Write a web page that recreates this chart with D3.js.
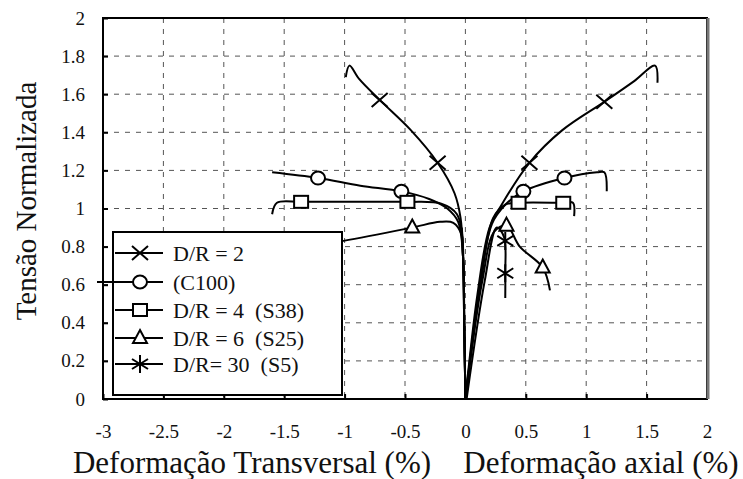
<!DOCTYPE html>
<html>
<head>
<meta charset="utf-8">
<script src="https://cdn.jsdelivr.net/npm/d3@7"></script>
<style>
  body { margin: 0; background: #fff; }
  svg { display: block; }
</style>
</head>
<body>
<svg></svg>
<script>
// tick values
const xTicks = [-3, -2.5, -2, -1.5, -1, -0.5, 0, 0.5, 1, 1.5, 2];
const yTicks = [0, 0.2, 0.4, 0.6, 0.8, 1, 1.2, 1.4, 1.6, 1.8, 2];

// D/R = 2 (X)
const dr2Lateral = [[0, 0], [-0.01, 0.4], [-0.02, 0.75], [-0.04, 0.95], [-0.09, 1.08], [-0.23, 1.24], [-0.45, 1.41], [-0.71, 1.57], [-0.88, 1.68], [-0.96, 1.75], [-0.99, 1.69]];
const dr2Axial = [[0, 0], [0.1, 0.55], [0.2, 0.9], [0.3, 1.02], [0.53, 1.24], [0.8, 1.41], [1.15, 1.56], [1.4, 1.67], [1.57, 1.75], [1.59, 1.66]];
const dr2Marks = [[-0.71, 1.57], [-0.23, 1.24], [0.53, 1.24], [1.15, 1.56]];

// C100 (circle)
const c100Lateral = [[0, 0], [-0.01, 0.4], [-0.02, 0.75], [-0.06, 0.93], [-0.15, 1.0], [-0.3, 1.05], [-0.53, 1.09], [-0.87, 1.12], [-1.22, 1.16], [-1.6, 1.19]];
const c100Axial = [[0, 0], [0.12, 0.6], [0.22, 0.92], [0.33, 1.02], [0.48, 1.09], [0.82, 1.16], [1.09, 1.19], [1.15, 1.19], [1.17, 1.09]];
const c100Marks = [[-1.22, 1.16], [-0.53, 1.09], [0.48, 1.09], [0.82, 1.16]];

// D/R = 4 (square)
const dr4Lateral = [[0, 0], [-0.01, 0.4], [-0.02, 0.75], [-0.07, 0.97], [-0.2, 1.025], [-0.48, 1.035], [-1.0, 1.035], [-1.36, 1.035], [-1.56, 1.03], [-1.6, 0.97]];
const dr4Axial = [[0, 0], [0.13, 0.62], [0.23, 0.95], [0.33, 1.02], [0.44, 1.03], [0.81, 1.03], [0.89, 1.03], [0.9, 0.96]];
const dr4Marks = [[-1.36, 1.035], [-0.48, 1.035], [0.44, 1.03], [0.81, 1.03]];

// D/R = 6 (triangle)
const dr6Lateral = [[0, 0], [-0.01, 0.4], [-0.02, 0.75], [-0.03, 0.86], [-0.1, 0.925], [-0.21, 0.93], [-0.44, 0.9], [-1.01, 0.83], [-1.5, 0.78]];
const dr6Axial = [[0, 0], [0.14, 0.62], [0.24, 0.88], [0.34, 0.91], [0.45, 0.8], [0.64, 0.69], [0.7, 0.57]];
const dr6Marks = [[-0.44, 0.9], [0.34, 0.91], [0.64, 0.69]];

// D/R = 30 (asterisk)
const dr30Lateral = [[0, 0], [-0.01, 0.45], [-0.02, 0.8], [-0.03, 0.9]];
const dr30Axial = [[0.01, 0], [0.16, 0.62], [0.26, 0.9], [0.32, 0.85], [0.33, 0.66], [0.33, 0.53]];
const dr30Marks = [[0.33, 0.83], [0.33, 0.66]];

const legendLabels = ["D/R = 2", "(C100)", "D/R = 4  (S38)", "D/R = 6  (S25)", "D/R= 30  (S5)"];
const series = [
  { name: legendLabels[0], sym: "x", lateral: dr2Lateral, axial: dr2Axial, marks: dr2Marks },
  { name: legendLabels[1], sym: "o", lateral: c100Lateral, axial: c100Axial, marks: c100Marks },
  { name: legendLabels[2], sym: "s", lateral: dr4Lateral, axial: dr4Axial, marks: dr4Marks },
  { name: legendLabels[3], sym: "t", lateral: dr6Lateral, axial: dr6Axial, marks: dr6Marks },
  { name: legendLabels[4], sym: "a", lateral: dr30Lateral, axial: dr30Axial, marks: dr30Marks }
];

const serif = '"Liberation Serif", Tinos, "Noto Serif", "DejaVu Serif", "Times New Roman", serif';
const width = 743, height = 479;
const svg = d3.select("svg").attr("width", width).attr("height", height);

const x = d3.scaleLinear().domain([-3, 2]).range([103, 707]);
const y = d3.scaleLinear().domain([0, 2]).range([399, 18]);

// grid
const grid = svg.append("g").attr("stroke", "#555").attr("stroke-width", 1).attr("stroke-dasharray", "5,6");
grid.selectAll("line.v").data(xTicks.slice(1, -1)).enter().append("line")
  .attr("x1", d => x(d)).attr("x2", d => x(d)).attr("y1", y(2)).attr("y2", y(0));
grid.selectAll("line.h").data(yTicks.slice(1, -1)).enter().append("line")
  .attr("x1", x(-3)).attr("x2", x(2)).attr("y1", d => y(d)).attr("y2", d => y(d));

// axes
const fmt = d => String(d);
const yAxis = svg.append("g").attr("transform", `translate(${x(-3)},0)`)
  .call(d3.axisLeft(y).tickValues(yTicks).tickFormat(fmt).tickSize(-5).tickPadding(18));
const xAxis = svg.append("g").attr("transform", `translate(0,${y(0)})`)
  .call(d3.axisBottom(x).tickValues(xTicks).tickFormat(fmt).tickSize(-5).tickPadding(26));
[xAxis, yAxis].forEach(a => {
  a.attr("font-family", serif).attr("font-size", 19);
  a.select(".domain").remove();
  a.selectAll("line").attr("stroke", "#000").attr("stroke-width", 2);
  a.selectAll("text").attr("fill", "#111");
});

// frame
svg.append("rect")
  .attr("x", x(-3)).attr("y", y(2))
  .attr("width", x(2) - x(-3)).attr("height", y(0) - y(2))
  .attr("fill", "none").attr("stroke", "#000").attr("stroke-width", 2);
svg.append("line").attr("x1", x(2) + 1).attr("x2", x(2) + 1).attr("y1", y(2)).attr("y2", y(0))
  .attr("stroke", "#777").attr("stroke-width", 3);

// symbols
function drawSym(g, sym, cx, cy) {
  const s = g.append("g").attr("transform", `translate(${cx},${cy})`)
    .attr("fill", "none").attr("stroke", "#000").attr("stroke-width", 2);
  if (sym === "x") {
    s.append("path").attr("d", "M-8,-7L8,7M-8,7L8,-7");
  } else if (sym === "o") {
    s.append("ellipse").attr("rx", 7).attr("ry", 6.5).attr("fill", "#fff");
  } else if (sym === "s") {
    s.append("rect").attr("x", -7).attr("y", -6).attr("width", 14).attr("height", 12).attr("fill", "#fff");
  } else if (sym === "t") {
    s.append("path").attr("d", "M0,-8L7,5L-7,5Z").attr("fill", "#fff");
  } else if (sym === "a") {
    s.append("path").attr("d", "M0,-9L0,9M-8,-5L8,5M-8,5L8,-5");
  }
}

// curves
const line = d3.line().x(d => x(d[0])).y(d => y(d[1])).curve(d3.curveCatmullRom.alpha(0.5));
const curves = svg.append("g");
series.forEach(s => {
  [s.lateral, s.axial].forEach(pts => {
    curves.append("path").datum(pts)
      .attr("d", line)
      .attr("fill", "none").attr("stroke", "#000").attr("stroke-width", 2);
  });
});
series.forEach(s => {
  s.marks.forEach(m => drawSym(curves, s.sym, x(m[0]), y(m[1])));
});

// legend
const legend = svg.append("g");
legend.append("rect")
  .attr("x", 113).attr("y", 232).attr("width", 229).attr("height", 163)
  .attr("fill", "#fff").attr("stroke", "#000").attr("stroke-width", 2);
const rowY = [253, 282, 310, 338, 364];
series.forEach((s, i) => {
  legend.append("line")
    .attr("x1", i === 1 ? 97 : 115).attr("x2", 163)
    .attr("y1", rowY[i]).attr("y2", rowY[i])
    .attr("stroke", "#000").attr("stroke-width", 2);
  drawSym(legend, s.sym, 140, rowY[i]);
  legend.append("text")
    .attr("x", 173).attr("y", rowY[i]).attr("dy", "0.35em")
    .attr("font-family", serif).attr("font-size", 22).attr("fill", "#111")
    .style("white-space", "pre")
    .text(s.name);
});

// titles
svg.append("text")
  .attr("x", 252).attr("y", 473).attr("text-anchor", "middle")
  .attr("font-family", serif).attr("font-size", 31).attr("fill", "#111")
  .text("Deformação Transversal (%)");
svg.append("text")
  .attr("x", 601).attr("y", 473).attr("text-anchor", "middle")
  .attr("font-family", serif).attr("font-size", 31).attr("fill", "#111")
  .text("Deformação axial (%)");
svg.append("text")
  .attr("transform", "translate(36,201) rotate(-90)")
  .attr("text-anchor", "middle")
  .attr("font-family", serif).attr("font-size", 29).attr("fill", "#111")
  .text("Tensão Normalizada");
</script>
</body>
</html>
